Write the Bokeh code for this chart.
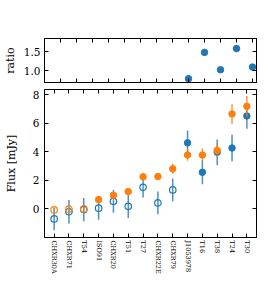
import math
from bokeh.plotting import figure
from bokeh.models import LinearAxis, FixedTicker, Range1d, ColumnDataSource
from bokeh.layouts import column
from bokeh.embed import file_html
from bokeh.resources import INLINE

labels = ["CHXR30A", "CHXR71", "T54", "ISO91", "CHXR20", "T51", "T27",
          "CHXR22E", "CHXR79", "J1053978", "T16", "T38", "T24", "T30"]
blue_flux = [-0.70, -0.20, -0.05, 0.05, 0.53, 0.18, 1.51, 0.42, 1.33,
             4.62, 2.56, 3.96, 4.26, 6.50]
blue_err = [0.80, 0.82, 0.82, 0.80, 0.80, 0.82, 0.72, 0.80, 0.80,
            0.87, 0.84, 0.90, 0.93, 0.90]
orange_flux = [-0.07, -0.02, 0.00, 0.65, 0.95, 1.21, 2.24, 2.26, 2.80,
               3.77, 3.77, 4.08, 6.64, 7.17]
orange_err = [0.10, 0.10, 0.10, 0.15, 0.20, 0.15, 0.23, 0.23, 0.35,
              0.40, 0.45, 0.45, 0.70, 0.73]
blue_filled_from = 9     # blue detections from this index on
orange_filled_from = 3   # orange detections from this index on
ratio_idx = [9, 10, 11, 12, 13]
ratio_vals = [0.80, 1.48, 1.03, 1.58, 1.10]
flux_ticks = [0, 2, 4, 6, 8]
ratio_ticks = [1.0, 1.5]

BLUE = "#1f77b4"
ORANGE = "#ff7f0e"
FONT = "DejaVu Serif"
idx = list(range(len(labels)))


def style(ax, show_labels=True):
    ax.major_tick_in = 4
    ax.major_tick_out = 0
    ax.minor_tick_line_color = None
    ax.axis_line_color = "black"
    ax.major_tick_line_color = "black"
    ax.major_label_text_font = FONT
    ax.major_label_text_color = "black"
    ax.axis_label_text_font = FONT
    ax.axis_label_text_font_style = "normal"
    ax.axis_label_text_color = "black"
    if not show_labels:
        # tick marks only: labels are not drawn and take (almost) no room
        ax.major_label_text_font_size = "1px"
        ax.major_label_text_color = None
        ax.major_label_standoff = 0


LEFT, RIGHT, FW = 40, 12, 216

# ---------------- ratio panel ----------------
p1 = figure(width=LEFT + FW + RIGHT, height=85, output_backend="svg",
            toolbar_location=None, x_range=Range1d(0, 13.25),
            y_range=Range1d(0.70, 1.84), min_border_left=LEFT,
            min_border_right=RIGHT, min_border_top=38, min_border_bottom=3)
p1.xgrid.visible = False
p1.ygrid.visible = False
p1.outline_line_color = "black"
p1.scatter(ratio_idx, ratio_vals, size=6.5, color=BLUE)
p1.xaxis.ticker = FixedTicker(ticks=idx)
style(p1.xaxis[0], show_labels=False)
p1.yaxis.ticker = FixedTicker(ticks=ratio_ticks)
p1.yaxis.major_label_overrides = {t: f"{t:.1f}" for t in ratio_ticks}
style(p1.yaxis[0])
p1.yaxis.major_label_text_font_size = "10.5px"
p1.yaxis.major_label_standoff = 4
p1.yaxis.axis_label = "ratio"
p1.yaxis.axis_label_text_font_size = "11px"
p1.yaxis.axis_label_standoff = 4
ax = LinearAxis(ticker=FixedTicker(ticks=idx))
style(ax, show_labels=False)
p1.add_layout(ax, "above")
ax = LinearAxis(ticker=FixedTicker(ticks=ratio_ticks))
style(ax, show_labels=False)
p1.add_layout(ax, "right")

# ---------------- flux panel ----------------
p2 = figure(width=LEFT + FW + RIGHT, height=210, output_backend="svg",
            toolbar_location=None, x_range=Range1d(-0.65, 13.65),
            y_range=Range1d(-2.0, 8.35), min_border_left=LEFT,
            min_border_right=RIGHT, min_border_top=4, min_border_bottom=58)
p2.xgrid.visible = False
p2.ygrid.visible = False
p2.outline_line_color = "black"

src_b = ColumnDataSource(dict(
    x=idx, y=blue_flux,
    lo=[v - e for v, e in zip(blue_flux, blue_err)],
    hi=[v + e for v, e in zip(blue_flux, blue_err)]))
src_o = ColumnDataSource(dict(
    x=idx, y=orange_flux,
    lo=[v - e for v, e in zip(orange_flux, orange_err)],
    hi=[v + e for v, e in zip(orange_flux, orange_err)]))

p2.segment(x0="x", y0="lo", x1="x", y1="hi", source=src_b,
           line_color=BLUE, line_width=1.5, line_alpha=0.8)
p2.scatter(idx[:blue_filled_from], blue_flux[:blue_filled_from], size=6.5,
           line_color=BLUE, fill_color=None, line_width=1.2)
p2.scatter(idx[blue_filled_from:], blue_flux[blue_filled_from:], size=6.5,
           color=BLUE)
p2.segment(x0="x", y0="lo", x1="x", y1="hi", source=src_o,
           line_color=ORANGE, line_width=1.5, line_alpha=0.8)
p2.scatter(idx[:orange_filled_from], orange_flux[:orange_filled_from],
           size=6.5, line_color=ORANGE, fill_color=None, line_width=1.2)
p2.scatter(idx[orange_filled_from:], orange_flux[orange_filled_from:],
           size=6.5, color=ORANGE)

p2.xaxis.ticker = FixedTicker(ticks=idx)
p2.xaxis.major_label_overrides = {i: l for i, l in enumerate(labels)}
style(p2.xaxis[0])
p2.xaxis.major_label_text_font_size = "6.5px"
p2.xaxis.major_label_orientation = -math.pi / 2
p2.xaxis.major_label_standoff = 3
p2.yaxis.ticker = FixedTicker(ticks=flux_ticks)
style(p2.yaxis[0])
p2.yaxis.major_label_text_font_size = "10.5px"
p2.yaxis.major_label_standoff = 5
p2.yaxis.axis_label = "Flux [mJy]"
p2.yaxis.axis_label_text_font_size = "11px"
p2.yaxis.axis_label_standoff = 12
ax = LinearAxis(ticker=FixedTicker(ticks=idx))
style(ax, show_labels=False)
p2.add_layout(ax, "above")
ax = LinearAxis(ticker=FixedTicker(ticks=flux_ticks))
style(ax, show_labels=False)
p2.add_layout(ax, "right")

layout = column(p1, p2)
open("out.html", "w").write(file_html(layout, INLINE))
